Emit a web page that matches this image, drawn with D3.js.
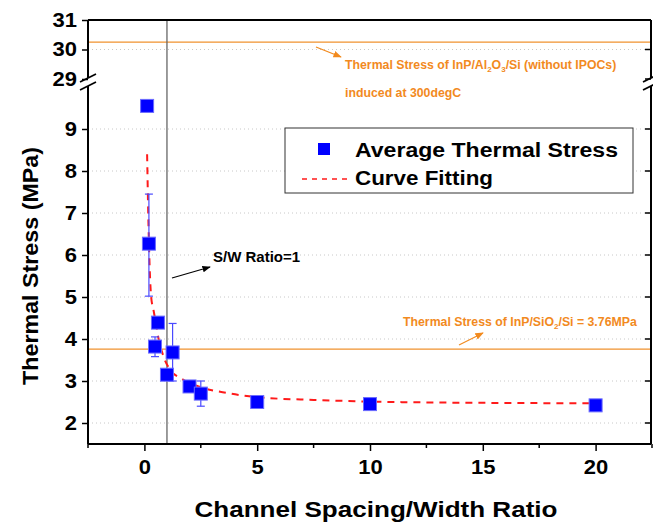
<!DOCTYPE html>
<html>
<head>
<meta charset="utf-8">
<script src="https://d3js.org/d3.v7.min.js"></script>
<style>
  body { margin: 0; background: #fff; }
  text { font-family: "Liberation Sans", Arial, sans-serif; }
</style>
</head>
<body>
<div id="chart"></div>
<script>
// measured points
const ratio = [0.12, 0.2, 0.47, 0.6, 1.0, 1.25, 2.0, 2.5, 5, 10, 20];
const stress = [9.55, 6.27, 3.82, 4.39, 3.15, 3.68, 2.87, 2.7, 2.5, 2.45, 2.42];
const errLow = [null, 5.02, 3.58, null, null, 3.0, null, 2.4, null, null, null];
const errHigh = [null, 7.45, 4.05, null, null, 4.37, null, 3.0, null, null, null];

// fitted curve
const fitX = [0.12, 0.2, 0.3, 0.4, 0.5, 0.63, 0.85, 1.15, 1.6, 2.4, 3.7, 5.1, 7.5, 10, 15, 20.1];
const fitY = [8.4, 6.3, 5.0, 4.7, 4.4, 4.0, 3.58, 3.26, 3.07, 2.87, 2.71, 2.61, 2.55, 2.51, 2.48, 2.47];

const xTicks = [0, 5, 10, 15, 20];
const yTicksLow = [2, 3, 4, 5, 6, 7, 8, 9];
const yTicksHigh = [29, 30, 31];
const refAl2O3 = 30.25;
const refSiO2 = 3.76;
const swRatio = 1;

const W = 653, H = 523;
const L = 88, R = 651, T = 20, B = 444;

const svg = d3.select('#chart').append('svg')
    .attr('width', W).attr('height', H);

const x = d3.scaleLinear().domain([-2.5, 22.5]).range([L, 652]);
const yLow = d3.scaleLinear().domain([1.5, 10]).range([B, 87]);
const yHigh = d3.scaleLinear().domain([29, 31]).range([79, T]);

// text in the picture is drawn a bit wider than plain Arial
function stretch(sel, k) {
    sel.each(function () {
        const len = this.getComputedTextLength();
        d3.select(this).attr('textLength', len * k).attr('lengthAdjust', 'spacingAndGlyphs');
    });
}

// grid
const grid = svg.append('g');
grid.selectAll('line.gl').data(yTicksLow).enter().append('line')
    .attr('x1', L).attr('x2', R)
    .attr('y1', d => yLow(d)).attr('y2', d => yLow(d))
    .attr('stroke', '#c8c8c8').attr('stroke-dasharray', '1,3');
grid.append('line')
    .attr('x1', L).attr('x2', R)
    .attr('y1', yHigh(30)).attr('y2', yHigh(30))
    .attr('stroke', '#c8c8c8').attr('stroke-dasharray', '1,3');

// reference lines
svg.append('line')
    .attr('x1', L).attr('x2', R)
    .attr('y1', yHigh(refAl2O3)).attr('y2', yHigh(refAl2O3))
    .attr('stroke', '#f0922e').attr('stroke-width', 1.3);
svg.append('line')
    .attr('x1', L).attr('x2', R)
    .attr('y1', yLow(refSiO2)).attr('y2', yLow(refSiO2))
    .attr('stroke', '#f0922e').attr('stroke-width', 1.3);
svg.append('line')
    .attr('x1', x(swRatio)).attr('x2', x(swRatio))
    .attr('y1', T).attr('y2', B)
    .attr('stroke', '#666').attr('stroke-width', 1.3);

// axes
const yAxisLow = d3.axisLeft(yLow).tickValues(yTicksLow).tickSize(6).tickFormat(d3.format('d'));
const yAxisHigh = d3.axisLeft(yHigh).tickValues(yTicksHigh).tickSize(6).tickFormat(d3.format('d'));
const xAxis = d3.axisBottom(x).tickValues(xTicks).tickSize(7).tickFormat(d3.format('d'));

function styleAxis(g) {
    g.select('.domain').remove();
    g.selectAll('line').attr('stroke', '#000').attr('stroke-width', 1.5);
    g.selectAll('text').attr('font-size', 20).attr('font-weight', 'bold').attr('fill', '#000');
}

const gyl = svg.append('g').attr('transform', `translate(${L},0)`).call(yAxisLow).call(styleAxis);
gyl.selectAll('text').attr('x', -11);
const gyh = svg.append('g').attr('transform', `translate(${L},0)`).call(yAxisHigh).call(styleAxis);
gyh.selectAll('text').attr('x', -11);
const gx = svg.append('g').attr('transform', `translate(0,${B})`).call(xAxis).call(styleAxis);
gx.selectAll('text').attr('y', 16);
stretch(gyl.selectAll('text'), 1.1);
stretch(gyh.selectAll('text'), 1.1);
stretch(gx.selectAll('text'), 1.1);

// minor x ticks
svg.append('g').selectAll('line').data([-2.5, 2.5, 7.5, 12.5, 17.5, 22.5]).enter().append('line')
    .attr('x1', d => x(d)).attr('x2', d => x(d))
    .attr('y1', B).attr('y2', B + 4)
    .attr('stroke', '#000').attr('stroke-width', 1.5);
// right ticks (inward)
svg.append('g').selectAll('line').data(yTicksLow).enter().append('line')
    .attr('x1', R - 6).attr('x2', R)
    .attr('y1', d => yLow(d)).attr('y2', d => yLow(d))
    .attr('stroke', '#000').attr('stroke-width', 1.5);
svg.append('g').selectAll('line').data(yTicksHigh.slice(0, 2)).enter().append('line')
    .attr('x1', R - 6).attr('x2', R)
    .attr('y1', d => yHigh(d)).attr('y2', d => yHigh(d))
    .attr('stroke', '#000').attr('stroke-width', 1.5);

const frame = svg.append('g').attr('stroke', '#000').attr('stroke-width', 2).attr('fill', 'none');
frame.append('line').attr('x1', L).attr('x2', R).attr('y1', T).attr('y2', T);
frame.append('line').attr('x1', L).attr('x2', R).attr('y1', B).attr('y2', B);
frame.append('line').attr('x1', L).attr('x2', L).attr('y1', T).attr('y2', 78);
frame.append('line').attr('x1', L).attr('x2', L).attr('y1', 86).attr('y2', B);
frame.append('line').attr('x1', R).attr('x2', R).attr('y1', T).attr('y2', 78);
frame.append('line').attr('x1', R).attr('x2', R).attr('y1', 86).attr('y2', B);

// break marks
[L, R].forEach(cx => {
    [78, 86].forEach(cy => {
        svg.append('line')
            .attr('x1', cx - 8).attr('y1', cy + 4).attr('x2', cx + 8).attr('y2', cy - 4)
            .attr('stroke', '#000').attr('stroke-width', 1.8);
    });
});

// fit curve
const fitLine = d3.line()
    .x(d => x(d[0])).y(d => yLow(d[1]))
    .curve(d3.curveMonotoneX);
svg.append('path')
    .datum(fitX.map((v, i) => [v, fitY[i]]))
    .attr('d', fitLine)
    .attr('fill', 'none').attr('stroke', '#ff1a1a')
    .attr('stroke-width', 2).attr('stroke-dasharray', '7,6');

// error bars
const eb = svg.append('g').attr('stroke', '#4a4aff').attr('stroke-width', 1.2);
ratio.forEach((r, i) => {
    if (errLow[i] == null) return;
    const cx = x(r);
    eb.append('line').attr('x1', cx).attr('x2', cx).attr('y1', yLow(errLow[i])).attr('y2', yLow(errHigh[i]));
    eb.append('line').attr('x1', cx - 4).attr('x2', cx + 4).attr('y1', yLow(errLow[i])).attr('y2', yLow(errLow[i]));
    eb.append('line').attr('x1', cx - 4).attr('x2', cx + 4).attr('y1', yLow(errHigh[i])).attr('y2', yLow(errHigh[i]));
});

// points
const sq = 13;
svg.append('g').selectAll('rect').data(ratio.map((v, i) => [v, stress[i]])).enter().append('rect')
    .attr('x', d => x(d[0]) - sq / 2).attr('y', d => yLow(d[1]) - sq / 2)
    .attr('width', sq).attr('height', sq)
    .attr('fill', '#0000ff').attr('stroke', '#6b6bff').attr('stroke-width', 1);

// legend
const lg = svg.append('g');
lg.append('rect').attr('x', 285).attr('y', 128).attr('width', 348).attr('height', 65)
    .attr('fill', '#fff').attr('stroke', '#333').attr('stroke-width', 1);
lg.append('rect').attr('x', 318).attr('y', 143).attr('width', 12).attr('height', 12).attr('fill', '#0000ff');
lg.append('line').attr('x1', 302).attr('x2', 350).attr('y1', 179).attr('y2', 179)
    .attr('stroke', '#ff1a1a').attr('stroke-width', 1.5).attr('stroke-dasharray', '5,5');
lg.append('text').attr('x', 355).attr('y', 157).attr('font-size', 20).attr('font-weight', 'bold')
    .attr('textLength', 263).attr('lengthAdjust', 'spacingAndGlyphs')
    .text('Average Thermal Stress');
lg.append('text').attr('x', 355).attr('y', 185).attr('font-size', 20).attr('font-weight', 'bold')
    .attr('textLength', 138).attr('lengthAdjust', 'spacingAndGlyphs')
    .text('Curve Fitting');

// annotations
const orange = '#f28a1e';
svg.append('defs').html(`
  <marker id="arrO" viewBox="0 0 10 10" refX="9" refY="5" markerWidth="7" markerHeight="7" orient="auto">
    <path d="M0,1 L10,5 L0,9 z" fill="${orange}"/></marker>
  <marker id="arrK" viewBox="0 0 10 10" refX="9" refY="5" markerWidth="7" markerHeight="7" orient="auto">
    <path d="M0,1 L10,5 L0,9 z" fill="#000"/></marker>`);

svg.append('line').attr('x1', 316).attr('y1', 47).attr('x2', 341).attr('y2', 57)
    .attr('stroke', orange).attr('stroke-width', 1.2).attr('marker-end', 'url(#arrO)');
const t1 = svg.append('text').attr('x', 345).attr('y', 69).attr('font-size', 12.3)
    .attr('font-weight', 'bold').attr('fill', orange);
t1.append('tspan').text('Thermal Stress of InP/Al');
t1.append('tspan').attr('font-size', 8).attr('dy', 3).text('2');
t1.append('tspan').attr('dy', -3).text('O');
t1.append('tspan').attr('font-size', 8).attr('dy', 3).text('3');
t1.append('tspan').attr('dy', -3).text('/Si (without IPOCs)');
svg.append('text').attr('x', 345).attr('y', 97).attr('font-size', 12.3)
    .attr('font-weight', 'bold').attr('fill', orange).text('induced at 300degC');

svg.append('line').attr('x1', 459).attr('y1', 345).attr('x2', 483).attr('y2', 333)
    .attr('stroke', orange).attr('stroke-width', 1.2).attr('marker-end', 'url(#arrO)');
const t2 = svg.append('text').attr('x', 403).attr('y', 326).attr('font-size', 12.3)
    .attr('font-weight', 'bold').attr('fill', orange);
t2.append('tspan').text('Thermal Stress of InP/SiO');
t2.append('tspan').attr('font-size', 8).attr('dy', 3).text('2');
t2.append('tspan').attr('dy', -3).text('/Si = 3.76MPa');

svg.append('line').attr('x1', 172).attr('y1', 278).attr('x2', 210).attr('y2', 267)
    .attr('stroke', '#000').attr('stroke-width', 1.2).attr('marker-end', 'url(#arrK)');
svg.append('text').attr('x', 213).attr('y', 262).attr('font-size', 15)
    .attr('font-weight', 'bold')
    .text('S/W Ratio=1');

// axis titles
svg.append('text').attr('transform', 'translate(38,266) rotate(-90)')
    .attr('text-anchor', 'middle').attr('font-size', 22).attr('font-weight', 'bold')
    .attr('textLength', 238).attr('lengthAdjust', 'spacingAndGlyphs')
    .text('Thermal Stress (MPa)');
svg.append('text').attr('x', 376).attr('y', 517)
    .attr('text-anchor', 'middle').attr('font-size', 22).attr('font-weight', 'bold')
    .attr('textLength', 363).attr('lengthAdjust', 'spacingAndGlyphs')
    .text('Channel Spacing/Width Ratio');
</script>
</body>
</html>
